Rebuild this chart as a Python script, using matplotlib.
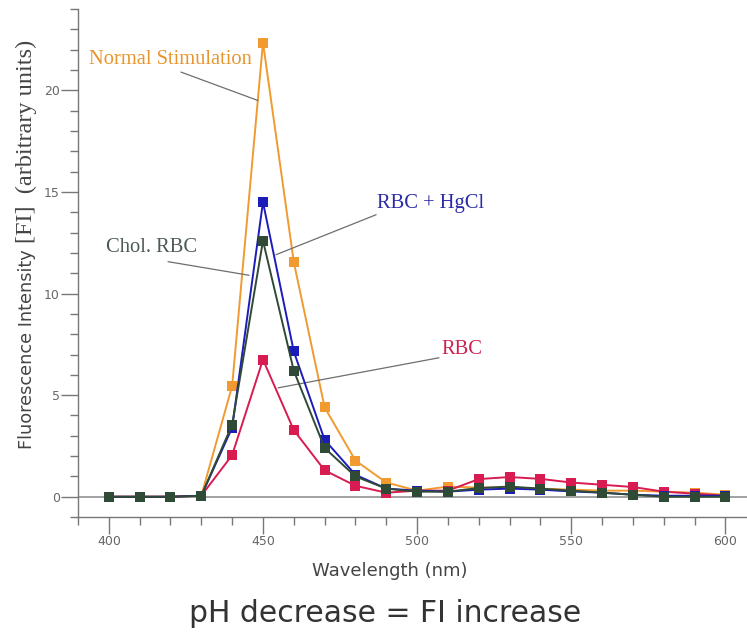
import matplotlib
matplotlib.use("Agg")
import matplotlib.pyplot as plt
from matplotlib.ticker import MultipleLocator

# wavelengths (nm)
wavelength = [400, 410, 420, 430, 440, 450, 460, 470, 480, 490, 500,
              510, 520, 530, 540, 550, 560, 570, 580, 590, 600]

# fluorescence intensity
normal_stim = [0, 0, 0, 0.05, 5.45, 22.35, 11.55, 4.4, 1.78, 0.7, 0.3,
               0.5, 0.45, 0.45, 0.4, 0.35, 0.3, 0.3, 0.25, 0.2, 0.1]
rbc_hgcl = [0, 0, 0, 0.05, 3.4, 14.5, 7.15, 2.8, 1.08, 0.4, 0.3,
            0.25, 0.35, 0.4, 0.35, 0.26, 0.2, 0.1, 0.05, 0.05, 0.05]
chol_rbc = [0, 0, 0, 0.05, 3.55, 12.6, 6.2, 2.4, 1.0, 0.4, 0.25,
            0.25, 0.43, 0.5, 0.4, 0.3, 0.2, 0.1, 0.0, 0.0, 0.0]
rbc = [0, 0, 0, 0.05, 2.05, 6.75, 3.28, 1.3, 0.54, 0.2, 0.3,
       0.3, 0.87, 0.97, 0.88, 0.7, 0.59, 0.48, 0.25, 0.15, 0.05]

c_orange = "#f09a30"
c_blue = "#1c1cb8"
c_green = "#2f4a35"
c_red = "#d81b50"

fig = plt.figure(figsize=(7.47, 6.36), dpi=100)
ax = fig.add_axes([0.1044, 0.187, 0.8956, 0.7987])

ax.axhline(0, color="#9a9a9a", lw=1.3, zorder=1)

mk = dict(marker="s", markersize=6.5, lw=1.4, markeredgewidth=0)
ax.plot(wavelength, normal_stim, color=c_orange, zorder=3, **mk)
ax.plot(wavelength, rbc, color=c_red, zorder=4, **mk)
ax.plot(wavelength, rbc_hgcl, color=c_blue, zorder=5, **mk)
ax.plot(wavelength, chol_rbc, color=c_green, zorder=6, **mk)

ax.set_xlim(390, 607)
ax.set_ylim(-1, 24)

for s in ["top", "right"]:
    ax.spines[s].set_visible(False)
for s in ["left", "bottom"]:
    ax.spines[s].set_color("#777777")
    ax.spines[s].set_linewidth(1.0)

ax.xaxis.set_major_locator(MultipleLocator(50))
ax.xaxis.set_minor_locator(MultipleLocator(10))
ax.yaxis.set_major_locator(MultipleLocator(5))
ax.yaxis.set_minor_locator(MultipleLocator(1))
ax.tick_params(which="major", length=12, width=1, color="#777777",
               labelsize=9, labelcolor="#666666", pad=1)
ax.tick_params(which="minor", length=6, width=1, color="#777777")

# series labels with leader lines
serif = "Liberation Serif"
line_kw = dict(arrowstyle="-", color="#6e6e6e", lw=0.9, shrinkA=0, shrinkB=0)
ax.annotate("", xy=(448.4, 19.5), xytext=(423.4, 20.9), arrowprops=line_kw)
ax.text(393.5, 21.5, "Normal Stimulation", family=serif, fontsize=14.8,
        color="#e8952e", va="center", ha="left")
ax.annotate("", xy=(445.5, 10.9), xytext=(419.2, 11.57), arrowprops=line_kw)
ax.text(399.0, 12.25, "Chol. RBC", family=serif, fontsize=14.8,
        color="#4d5a55", va="center", ha="left")
ax.annotate("", xy=(454.2, 11.91), xytext=(486.7, 13.88), arrowprops=line_kw)
ax.text(487.0, 14.42, "RBC + HgCl", family=serif, fontsize=14.8,
        color="#2a2aa8", va="center", ha="left")
ax.annotate("", xy=(454.9, 5.36), xytext=(507.1, 6.84), arrowprops=line_kw)
ax.text(508.0, 7.23, "RBC", family=serif, fontsize=14.8,
        color="#cf2253", va="center", ha="left")

# y label in two fonts, x label and caption
fig.text(0.036, 0.451, "Fluorescence Intensity", rotation=90, fontsize=12.8,
         color="#444444", ha="center", va="center")
fig.text(0.036, 0.7775, "[FI]  (arbitrary units)", rotation=90, family=serif,
         fontsize=17.5, color="#444444", ha="center", va="center")
fig.text(0.522, 0.102, "Wavelength (nm)", fontsize=13, color="#444444",
         ha="center", va="center")
fig.text(0.515, 0.036, "pH decrease = FI increase", fontsize=21.5,
         color="#333333", ha="center", va="center")

fig.savefig("out.png", dpi=100)
